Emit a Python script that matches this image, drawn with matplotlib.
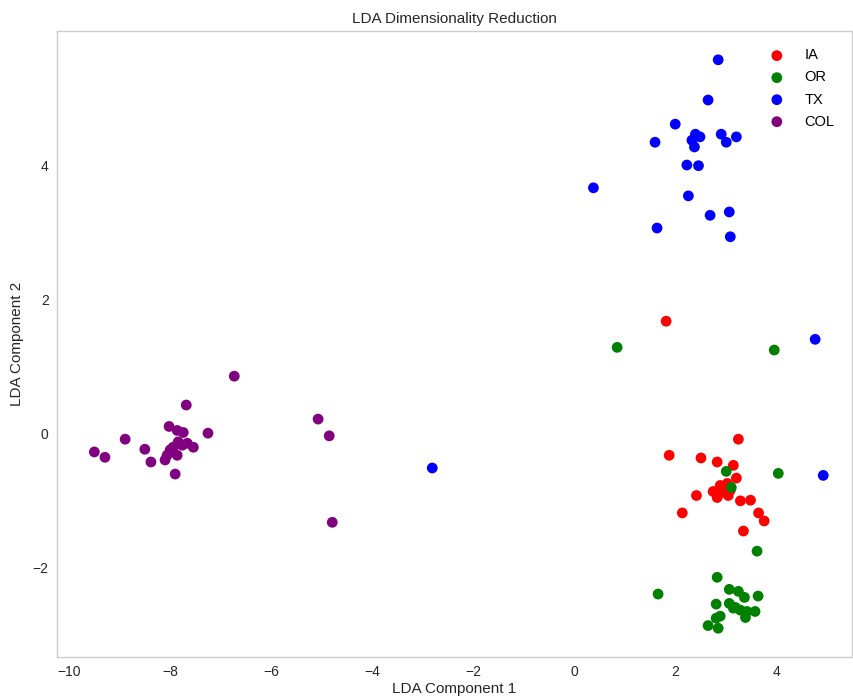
import numpy as np
import matplotlib
matplotlib.use("Agg")
import matplotlib.pyplot as plt

plt.rcParams['font.family'] = ['Liberation Sans', 'DejaVu Sans']

# LDA projected points
ia_x = [1.82, 3.25, 1.88, 2.51, 2.83, 3.15, 3.21, 2.89, 3.03, 2.75, 2.95, 2.83, 3.05, 3.09,
        2.42, 3.29, 3.49, 2.14, 3.65, 3.76, 3.35]
ia_y = [1.67, -0.09, -0.33, -0.37, -0.43, -0.48, -0.67, -0.78, -0.75, -0.87, -0.88, -0.96, -0.93, -0.85,
        -0.93, -1.01, -1.00, -1.19, -1.19, -1.31, -1.46]

or_x = [0.85, 3.96, 3.01, 3.11, 4.04, 3.62, 2.83, 1.66, 3.64, 3.07, 3.25, 3.37, 2.81, 3.07,
        3.19, 3.29, 3.42, 3.58, 3.39, 2.89, 2.81, 2.65, 2.85, 3.15]
or_y = [1.28, 1.24, -0.57, -0.81, -0.60, -1.76, -2.15, -2.40, -2.43, -2.33, -2.36, -2.45, -2.55, -2.54,
        -2.60, -2.64, -2.66, -2.66, -2.75, -2.73, -2.76, -2.87, -2.91, -2.61]

tx_x = [2.85, 2.65, 2.00, 1.60, 2.40, 2.49, 2.33, 2.38, 2.91, 3.01, 3.21, 2.23, 2.46, 0.38,
        2.26, 2.69, 3.07, 1.64, 3.09, 4.77, 4.93, -2.81]
tx_y = [5.57, 4.97, 4.61, 4.34, 4.46, 4.42, 4.37, 4.27, 4.46, 4.34, 4.42, 4.00, 3.99, 3.66,
        3.54, 3.25, 3.30, 3.06, 2.93, 1.40, -0.63, -0.52]

col_x = [-6.73, -7.68, -8.02, -7.86, -7.74, -7.25, -8.89, -9.50, -9.29, -8.50, -8.38, -7.90,
         -7.84, -7.66, -7.54, -8.00, -8.06, -8.10, -7.86, -7.94, -7.76, -5.07, -4.85, -4.79]
col_y = [0.85, 0.42, 0.10, 0.04, 0.01, 0.00, -0.09, -0.28, -0.36, -0.24, -0.43, -0.61,
         -0.13, -0.15, -0.21, -0.25, -0.33, -0.40, -0.33, -0.21, -0.18, 0.21, -0.04, -1.33]

groups = [("IA", ia_x, ia_y, "red"),
          ("OR", or_x, or_y, "green"),
          ("TX", tx_x, tx_y, "blue"),
          ("COL", col_x, col_y, "purple")]

fig = plt.figure(figsize=(8.54, 6.99), dpi=100)
ax = fig.add_axes([0.0667, 0.06, 0.931, 0.8957])

for name, xs, ys, c in groups:
    ax.scatter(xs, ys, c=c, s=60, label=name, edgecolors='none')

ax.set_xlim(-10.24, 5.5)
ax.set_ylim(-3.34, 6.0)
ax.set_xticks([-10, -8, -6, -4, -2, 0, 2, 4])
ax.set_yticks([-2, 0, 2, 4])
ax.tick_params(length=0, labelsize=10, colors='#262626', pad=6)
for s in ax.spines.values():
    s.set_color('#cccccc')
    s.set_linewidth(1.0)

ax.set_title("LDA Dimensionality Reduction", fontsize=11, color='#262626', pad=6)
ax.set_xlabel("LDA Component 1", fontsize=11, color='#262626', labelpad=2)
ax.set_ylabel("LDA Component 2", fontsize=11, color='#262626', labelpad=6)

ax.legend(frameon=False, fontsize=10.5, loc='upper right', handletextpad=0.9,
          labelspacing=0.55, borderaxespad=0.8)

fig.savefig("out.png", dpi=100)
